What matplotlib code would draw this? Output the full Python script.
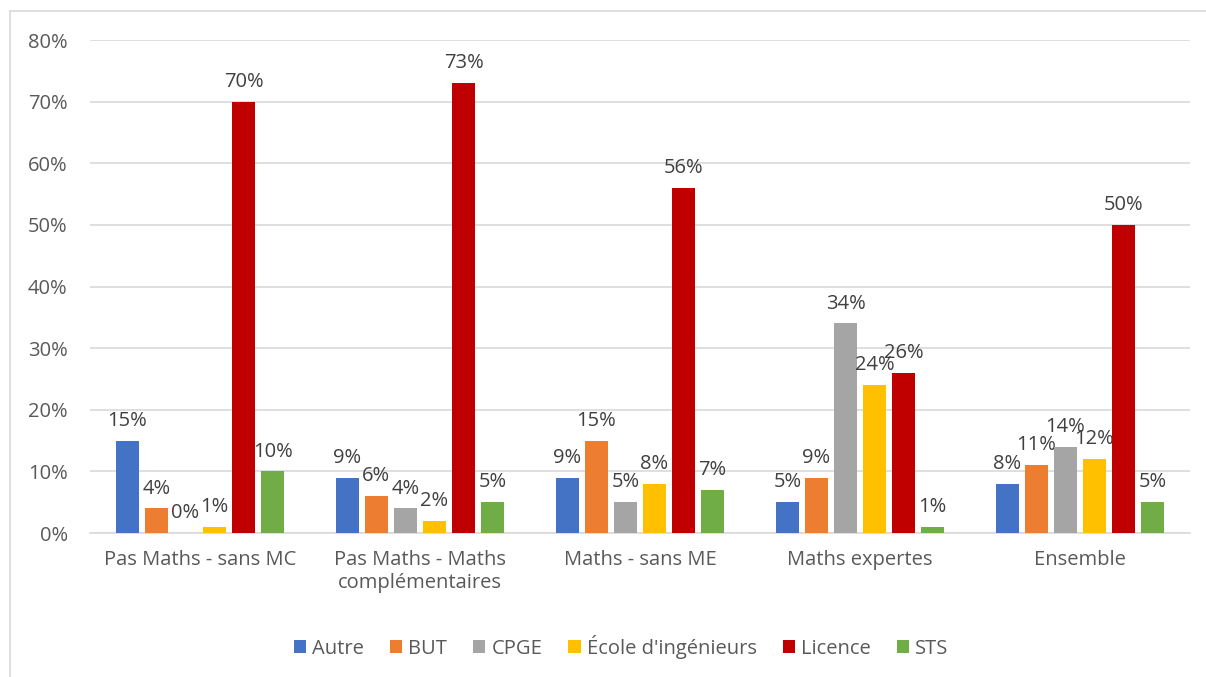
import numpy as np
import matplotlib.pyplot as plt
from matplotlib.lines import Line2D
from matplotlib.ticker import PercentFormatter

plt.rcParams['font.family'] = ['Open Sans', 'DejaVu Sans']

categories = ['Pas Maths - sans MC', 'Pas Maths - Maths\ncomplémentaires',
              'Maths - sans ME', 'Maths expertes', 'Ensemble']
series = ['Autre', 'BUT', 'CPGE', "École d'ingénieurs", 'Licence', 'STS']
autre = [15, 9, 9, 5, 8]
but = [4, 6, 15, 9, 11]
cpge = [0, 4, 5, 34, 14]
ecole = [1, 2, 8, 24, 12]
licence = [70, 73, 56, 26, 50]
sts = [10, 5, 7, 1, 5]
values = [autre, but, cpge, ecole, licence, sts]
colors = ['#4472C4', '#ED7D31', '#A5A5A5', '#FFC000', '#C00000', '#70AD47']

fig = plt.figure(figsize=(12.06, 6.77), dpi=100)
ax = fig.add_axes([0.0746, 0.2127, 0.9121, 0.7282])

x = np.arange(len(categories))
pitch = 0.132
width = 0.105
for i, (name, vals, c) in enumerate(zip(series, values, colors)):
    pos = x + (i - 2.5) * pitch
    bars = ax.bar(pos, vals, width, color=c, label=name, zorder=3)
    for b, v in zip(bars, vals):
        ax.annotate(f'{v}%', xy=(b.get_x() + b.get_width() / 2, v),
                    xytext=(0, 7), textcoords='offset points',
                    ha='center', va='bottom', fontsize=14.5, color='#404040')

ax.set_xlim(-0.5, len(categories) - 0.5)
ax.set_ylim(0, 80)
ax.set_yticks(np.arange(0, 81, 10))
ax.yaxis.set_major_formatter(PercentFormatter(decimals=0))
ax.set_xticks(x)
ax.set_xticklabels(categories)
ax.tick_params(axis='both', length=0, labelsize=14.5, colors='#595959')
ax.tick_params(axis='x', pad=12)
ax.tick_params(axis='y', pad=16)
ax.grid(axis='y', color='#D9D9D9', linewidth=1.2, zorder=0)
for s in ['top', 'right', 'left']:
    ax.spines[s].set_visible(False)
ax.spines['bottom'].set_color('#D9D9D9')
ax.spines['bottom'].set_linewidth(1.2)

fig.legend(loc='center', bbox_to_anchor=(0.515, 0.045), ncol=6, frameon=False,
           fontsize=14.5, handlelength=0.6, handleheight=0.6, handletextpad=0.3,
           columnspacing=1.3, labelcolor='#595959')

# outer chart border (left and top only visible)
bx, by = 10 / 1206, 1 - 11 / 677
fig.add_artist(Line2D([bx, bx], [0, by], transform=fig.transFigure,
                      color='#D9D9D9', linewidth=1.2))
fig.add_artist(Line2D([bx, 1], [by, by], transform=fig.transFigure,
                      color='#D9D9D9', linewidth=1.2))

fig.savefig('out.png', dpi=100)
